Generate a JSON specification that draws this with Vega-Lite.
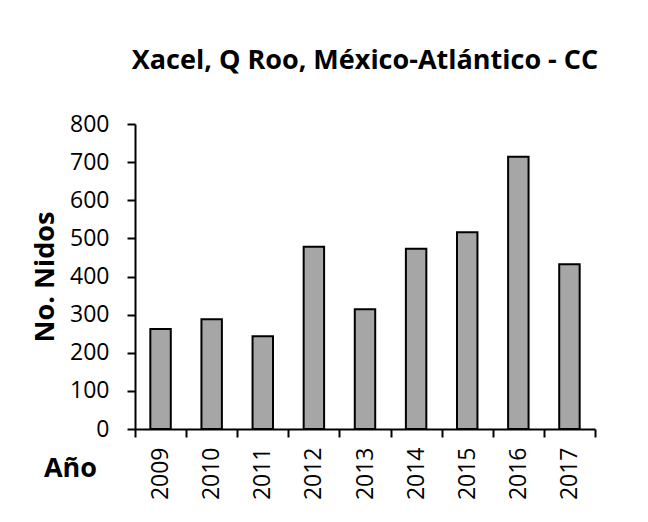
{
  "$schema": "https://vega.github.io/schema/vega-lite/v6.json",
  "autosize": "none",
  "width": 460,
  "height": 305,
  "padding": {"left": 135, "top": 124, "right": 53, "bottom": 93},
  "background": "white",
  "title": {
    "text": "Xacel, Q Roo, México-Atlántico - CC",
    "font": "Open Sans",
    "fontSize": 27,
    "fontWeight": "bold",
    "color": "black",
    "anchor": "middle",
    "offset": 38
  },
  "data": {
    "values": [
      {"year": "2009", "nidos": 262},
      {"year": "2010", "nidos": 288},
      {"year": "2011", "nidos": 243},
      {"year": "2012", "nidos": 478},
      {"year": "2013", "nidos": 314},
      {"year": "2014", "nidos": 473},
      {"year": "2015", "nidos": 516},
      {"year": "2016", "nidos": 714},
      {"year": "2017", "nidos": 432}
    ]
  },
  "mark": {"type": "bar", "fill": "#a6a6a6", "stroke": "black", "strokeWidth": 2, "width": {"band": 0.4}},
  "encoding": {
    "x": {
      "field": "year",
      "type": "ordinal",
      "scale": {"paddingInner": 0, "paddingOuter": 0},
      "axis": {
        "title": "Año",
        "titleFont": "Open Sans",
        "titleFontSize": 27,
        "titleFontWeight": "bold",
        "titleColor": "black",
        "titleX": -65,
        "titleY": 39,
        "titleAlign": "center",
        "titleBaseline": "middle",
        "labelAngle": -90,
        "labelFont": "Open Sans",
        "labelFontSize": 23,
        "labelColor": "black",
        "labelPadding": 10,
        "tickBand": "extent",
        "tickSize": 8,
        "tickColor": "black",
        "tickWidth": 2,
        "domainColor": "black",
        "domainWidth": 2
      }
    },
    "y": {
      "field": "nidos",
      "type": "quantitative",
      "scale": {"domain": [0, 800]},
      "axis": {
        "title": "No. Nidos",
        "titleFont": "Open Sans",
        "titleFontSize": 27,
        "titleFontWeight": "bold",
        "titleColor": "black",
        "titleX": -90,
        "titleAngle": -90,
        "titleAlign": "center",
        "titleBaseline": "middle",
        "values": [0, 100, 200, 300, 400, 500, 600, 700, 800],
        "grid": false,
        "labelFont": "Open Sans",
        "labelFontSize": 23,
        "labelColor": "black",
        "labelPadding": 18,
        "tickSize": 8,
        "tickColor": "black",
        "tickWidth": 2,
        "domainColor": "black",
        "domainWidth": 2
      }
    }
  },
  "config": {"view": {"stroke": null}}
}
